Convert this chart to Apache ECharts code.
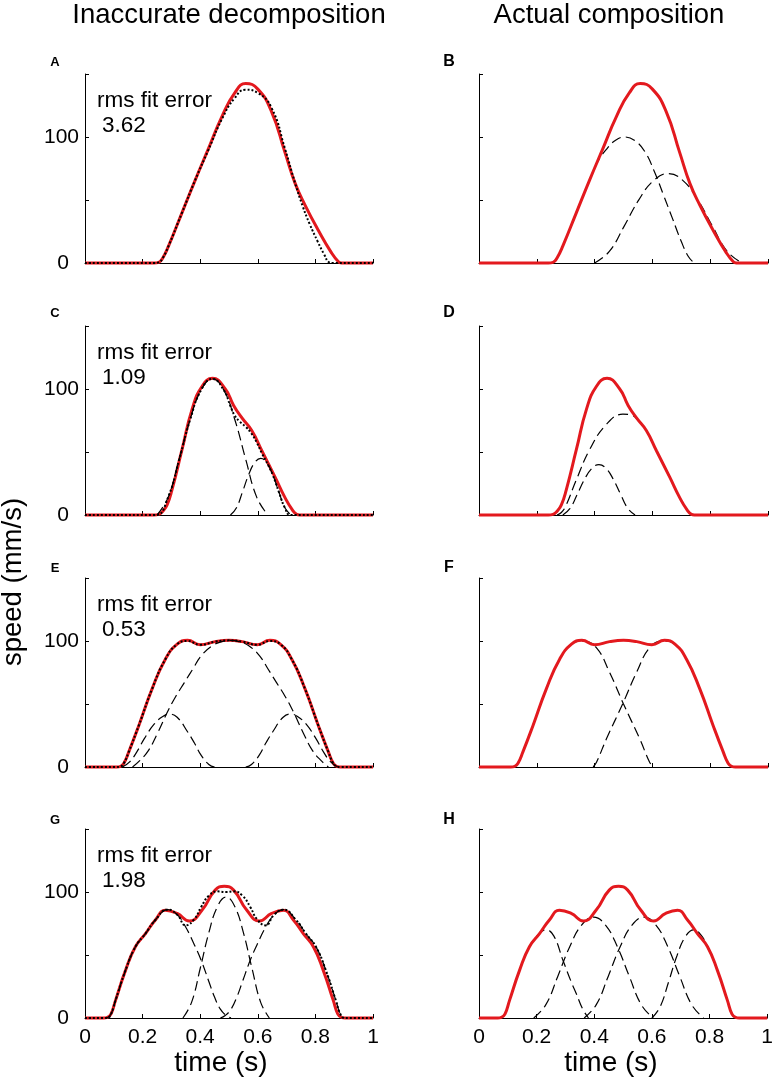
<!DOCTYPE html>
<html>
<head>
<meta charset="utf-8">
<script src="https://cdn.jsdelivr.net/npm/echarts@6/dist/echarts.min.js"></script>
<style>
html,body{margin:0;padding:0;background:#fff;}
#chart{width:776px;height:1089px;}
</style>
</head>
<body>
<div id="chart"></div>
<script>
// ---------- data (time in s, speed in mm/s) ----------
const columnTitles = ['Inaccurate decomposition', 'Actual composition'];
const panelLetters = ['A', 'B', 'C', 'D', 'E', 'F', 'G', 'H'];
const rmsErrors = ['3.62', '1.09', '0.53', '1.98'];
const xTicks = [0, 0.2, 0.4, 0.6, 0.8, 1];
const yLabelled = [0, 100];

// measured speed (red), same movement in both columns
const speedAB = [[0,0],[0.24,0],[0.256,0.5],[0.27,4],[0.291,14],[0.337,40],[0.383,66],[0.429,91],[0.475,116],[0.52,135],[0.558,142.5],[0.60,138],[0.648,120],[0.694,88],[0.73,63],[0.764,46],[0.81,26],[0.856,8],[0.88,1],[0.89,0],[1,0]];
const speedCD = [[0,0],[0.24,0],[0.256,0.5],[0.27,3],[0.285,8],[0.302,20],[0.337,52],[0.372,84],[0.406,102],[0.443,108.5],[0.487,100],[0.516,87],[0.545,77],[0.579,67],[0.614,51],[0.66,30],[0.694,14],[0.72,4],[0.735,0.5],[0.745,0],[1,0]];
const speedEF = [[0,0],[0.11,0],[0.1235,0.5],[0.135,3],[0.152,12],[0.187,33],[0.233,62],[0.279,85.5],[0.32,97.5],[0.356,100.5],[0.40,97],[0.452,99.5],[0.50,100.5],[0.546,99.5],[0.598,97],[0.642,100.5],[0.678,97.5],[0.718,85.5],[0.764,62],[0.81,33],[0.845,12],[0.862,3],[0.874,0.5],[0.887,0],[1,0]];
const speedGH = [[0,0],[0.065,0],[0.0775,0.5],[0.09,3],[0.106,14],[0.141,38],[0.175,56.5],[0.21,67],[0.245,78],[0.279,85.5],[0.32,83],[0.362,77],[0.406,85.5],[0.452,101.5],[0.484,104.5],[0.516,101.5],[0.562,85.5],[0.606,77],[0.648,83],[0.689,85.5],[0.723,78],[0.758,67],[0.793,56.5],[0.827,38],[0.862,14],[0.878,3],[0.8905,0.5],[0.903,0],[1,0]];

// fitted sums (dotted), left column
const fitA = [[0,0],[0.24,0],[0.256,0.5],[0.27,4],[0.291,14],[0.337,40],[0.383,66],[0.429,90],[0.475,114],[0.52,131],[0.557,137.5],[0.60,135],[0.648,123],[0.694,91],[0.73,63],[0.756,45],[0.78,31],[0.808,17],[0.83,7],[0.848,0.5],[0.86,0],[1,0]];
const fitC = [[0,0],[0.24,0],[0.25,0],[0.2885,14],[0.327,44],[0.3655,76],[0.404,99.5],[0.4425,108],[0.481,99.5],[0.505,86.5],[0.5195,79],[0.538,74],[0.558,70],[0.577,65],[0.5965,57.5],[0.615,48.6],[0.635,40],[0.652,31.8],[0.673,18.4],[0.694,5.8],[0.715,0],[1,0]];
const fitE = [[0,0],[0.11,0],[0.1235,0.5],[0.135,3],[0.152,12],[0.187,33],[0.233,62],[0.279,85.5],[0.32,97.5],[0.356,100],[0.40,97],[0.452,99.5],[0.50,100.5],[0.546,99.5],[0.598,97],[0.642,100],[0.678,97.5],[0.718,85.5],[0.764,62],[0.81,33],[0.845,12],[0.862,3],[0.874,0.5],[0.887,0],[1,0]];
const fitG = [[0,0],[0.065,0],[0.077,0],[0.09,3],[0.106,14],[0.141,38],[0.175,56.5],[0.21,67],[0.245,78],[0.287,86],[0.32,82],[0.35,73.5],[0.38,78.5],[0.403,88],[0.43,97],[0.46,100.5],[0.49,100],[0.517,100.5],[0.547,97],[0.574,88],[0.597,78.5],[0.627,73.5],[0.657,82],[0.69,86],[0.732,78],[0.767,67],[0.802,56.5],[0.836,38],[0.871,14],[0.887,3],[0.9,0],[1,0]];

// submovements (dashed)
const compB1 = [[0.256,0],[0.27,4],[0.291,14],[0.337,40],[0.383,66],[0.41,80],[0.44,90],[0.47,97],[0.504,100],[0.54,97],[0.575,88],[0.606,73],[0.64,53],[0.67,35],[0.70,17],[0.725,5],[0.745,0]];
const compB2 = [[0.40,0],[0.451,9.2],[0.502,29.1],[0.553,50.1],[0.604,65.4],[0.655,71],[0.706,65.4],[0.757,50.1],[0.808,29.1],[0.859,9.2],[0.91,0]];
const compC1 = [[0.25,0],[0.2885,14],[0.327,44.2],[0.3655,76.2],[0.404,99.5],[0.4425,108],[0.481,99.5],[0.5195,76.2],[0.558,44.2],[0.5965,14],[0.635,0]];
const compC2 = [[0.505,0],[0.526,5.8],[0.547,18.4],[0.568,31.8],[0.589,41.5],[0.61,45],[0.631,41.5],[0.652,31.8],[0.673,18.4],[0.694,5.8],[0.715,0]];
const compD1 = [[0.29,0],[0.315,5.2],[0.34,16.4],[0.365,28.2],[0.39,36.9],[0.415,40],[0.44,36.9],[0.465,28.2],[0.49,16.4],[0.515,5.2],[0.54,0]];
const compD2 = [[0.27,0],[0.285,2],[0.30,7],[0.337,28],[0.383,52],[0.441,72],[0.498,80],[0.53,79],[0.545,76.5],[0.579,67],[0.614,51],[0.66,30],[0.694,14],[0.72,4],[0.74,0]];
const compE1 = [[0.13,0],[0.155,4],[0.18,12],[0.206,22.5],[0.24,34],[0.27,40],[0.293,42],[0.32,39.5],[0.356,28],[0.38,19],[0.403,9.4],[0.43,2],[0.45,0]];
const compE2 = [[0.165,0],[0.19,5],[0.22,13],[0.25,26],[0.287,44],[0.315,56],[0.345,67],[0.375,78],[0.403,88],[0.44,96],[0.475,99.5],[0.505,100.5],[0.535,99.5],[0.57,96],[0.607,88],[0.635,78],[0.665,67],[0.695,56],[0.723,44],[0.76,26],[0.79,13],[0.82,5],[0.845,0]];
const compE3 = [[0.558,0],[0.578,2],[0.605,9.4],[0.628,19],[0.652,28],[0.688,39.5],[0.715,42],[0.738,40],[0.768,34],[0.802,22.5],[0.828,12],[0.853,4],[0.878,0]];
const compF1 = [[0.115,0],[0.1235,0.5],[0.135,3],[0.152,12],[0.187,33],[0.233,62],[0.279,85.5],[0.32,97.5],[0.36,100],[0.406,94.7],[0.452,75],[0.50,50],[0.556,22.4],[0.59,4],[0.602,0]];
const compF2 = [[0.395,0],[0.407,4],[0.441,22.4],[0.497,50],[0.545,75],[0.591,94.7],[0.637,100],[0.677,97.5],[0.718,85.5],[0.764,62],[0.81,33],[0.845,12],[0.862,3],[0.874,0.5],[0.882,0]];
const compG1 = [[0.077,0],[0.09,3],[0.106,14],[0.141,38],[0.175,56.5],[0.21,67],[0.245,78],[0.287,86],[0.32,82],[0.35,72],[0.38,58],[0.403,46],[0.43,29],[0.449,17],[0.47,7],[0.49,2],[0.507,0]];
const compG2 = [[0.34,0],[0.37,12.4],[0.40,39.3],[0.43,67.7],[0.46,88.5],[0.49,96],[0.52,88.5],[0.55,67.7],[0.58,39.3],[0.61,12.4],[0.64,0]];
const compG3 = [[0.47,0],[0.487,2],[0.507,7],[0.528,17],[0.547,29],[0.574,46],[0.597,58],[0.627,72],[0.657,82],[0.69,86],[0.732,78],[0.767,67],[0.802,56.5],[0.836,38],[0.871,14],[0.887,3],[0.9,0]];
const compH1 = [[0.0775,0],[0.09,3],[0.106,14],[0.141,38],[0.175,56.5],[0.205,66],[0.233,70],[0.26,65],[0.291,46],[0.32,28.7],[0.337,19.7],[0.36,7],[0.38,0]];
const compH2 = [[0.19,0],[0.2315,10.4],[0.273,32.8],[0.3145,56.4],[0.356,73.7],[0.3975,80],[0.439,73.7],[0.4805,56.4],[0.522,32.8],[0.5635,10.4],[0.605,0]];
const compH3 = [[0.365,0],[0.4065,10.4],[0.448,32.8],[0.4895,56.4],[0.531,73.7],[0.5725,80],[0.614,73.7],[0.6555,56.4],[0.697,32.8],[0.7385,10.4],[0.78,0]];
const compH4 = [[0.60,0],[0.629,9.1],[0.658,28.7],[0.687,49.4],[0.716,64.5],[0.745,70],[0.77,66],[0.793,56.5],[0.827,38],[0.862,14],[0.878,3],[0.8905,0]];

// ---------- layout / style ----------
const FONT = '"Liberation Sans", Arial, Helvetica, sans-serif';
const RED = '#e3191e';
const colLeft = [85, 479];
const colWidth = [288, 289];
const rowTop = [74, 326, 578, 829];
const rowHeight = 189;

const panels = [
  { red: speedAB, fit: fitA, comps: [] },
  { red: speedAB, comps: [compB1, compB2] },
  { red: speedCD, fit: fitC, comps: [compC1, compC2] },
  { red: speedCD, comps: [compD1, compD2] },
  { red: speedEF, fit: fitE, comps: [compE1, compE2, compE3] },
  { red: speedEF, comps: [compF1, compF2] },
  { red: speedGH, fit: fitG, comps: [compG1, compG2, compG3] },
  { red: speedGH, comps: [compH1, compH2, compH3, compH4] }
];

const grid = [], xAxis = [], yAxis = [], series = [];
panels.forEach((p, i) => {
  const r = Math.floor(i / 2), c = i % 2;
  grid.push({ left: colLeft[c], top: rowTop[r], width: colWidth[c], height: rowHeight });
  xAxis.push({
    gridIndex: i, type: 'value', min: xTicks[0], max: xTicks[xTicks.length - 1], interval: 0.2,
    axisLine: { show: true, onZero: false, lineStyle: { color: '#000', width: 1 } },
    axisTick: { show: true, inside: true, length: 4, lineStyle: { color: '#000', width: 1 } },
    axisLabel: { show: r === 3, color: '#000', fontSize: 21, fontFamily: FONT, margin: 9,
      formatter: v => String(Math.round(v * 10) / 10) },
    splitLine: { show: false }
  });
  yAxis.push({
    gridIndex: i, type: 'value', min: 0, max: 150, interval: 50,
    axisLine: { show: true, onZero: false, lineStyle: { color: '#000', width: 1 } },
    axisTick: { show: true, inside: true, length: 4, lineStyle: { color: '#000', width: 1 } },
    axisLabel: { show: c === 0, color: '#000', fontSize: 21, fontFamily: FONT, margin: 6,
      formatter: v => (yLabelled.indexOf(v) < 0 ? '' : (v === 0 ? '{z|0}' : String(v))),
      rich: { z: { fontSize: 21, fontFamily: FONT, color: '#000', padding: [0, 10, 0, 0] } } },
    splitLine: { show: false }
  });
  const base = { type: 'line', xAxisIndex: i, yAxisIndex: i, showSymbol: false, symbol: 'none',
    clip: false, animation: false, silent: true };
  const redS = Object.assign({}, base, { data: p.red, smooth: 0.5, z: 3,
    lineStyle: { color: RED, width: 3 } });
  const compS = p.comps.map(d => Object.assign({}, base, { data: d, smooth: 0.45, z: c === 0 ? 4 : 2,
    lineStyle: { color: '#000', width: 1.2, type: [10, 5] } }));
  if (c === 0) {
    series.push(redS);
    compS.forEach(s => series.push(s));
    series.push(Object.assign({}, base, { data: p.fit, smooth: 0.5, z: 5,
      lineStyle: { color: '#000', width: 2, type: [2, 2] } }));
  } else {
    compS.forEach(s => series.push(s));
    series.push(redS);
  }
});

const graphic = [];
const txt = (x, y, text, size, opts) => graphic.push(Object.assign({
  type: 'text', x: x, y: y, silent: true,
  style: Object.assign({ text: text, fill: '#000', font: size + 'px ' + FONT,
    textAlign: 'left', textVerticalAlign: 'middle', align: 'left', verticalAlign: 'middle' }, (opts && opts.style) || {})
}, (opts && opts.el) || {}));

// column titles
txt(229, 15, columnTitles[0], 27.5, { style: { textAlign: 'center', align: 'center' } });
txt(609, 15, columnTitles[1], 27.5, { style: { textAlign: 'center', align: 'center' } });
// axis titles
txt(13, 582, 'speed (mm/s)', 27.5, { style: { textAlign: 'center', align: 'center' }, el: { rotation: Math.PI / 2 } });
txt(221, 1063, 'time (s)', 28, { style: { textAlign: 'center', align: 'center' } });
txt(611, 1063, 'time (s)', 28, { style: { textAlign: 'center', align: 'center' } });
// panel letters
const letterY = [62, 313, 568, 820];
panelLetters.forEach((L, i) => {
  const r = Math.floor(i / 2), c = i % 2;
  graphic.push({ type: 'text', x: c === 0 ? 55 : 449, y: letterY[r], silent: true,
    style: { text: L, fill: '#000', font: 'bold ' + (c === 0 ? 13 : 16) + 'px ' + FONT,
      textAlign: 'center', align: 'center', textVerticalAlign: 'middle', verticalAlign: 'middle' } });
});
// rms errors
rmsErrors.forEach((e, r) => {
  txt(97, rowTop[r] + 27, 'rms fit error', 22.5);
  txt(102, rowTop[r] + 52, e, 22.5);
});

const chart = echarts.init(document.getElementById('chart'), null, { renderer: 'canvas' });
chart.setOption({ animation: false, backgroundColor: '#fff', grid, xAxis, yAxis, series, graphic });
</script>
</body>
</html>
